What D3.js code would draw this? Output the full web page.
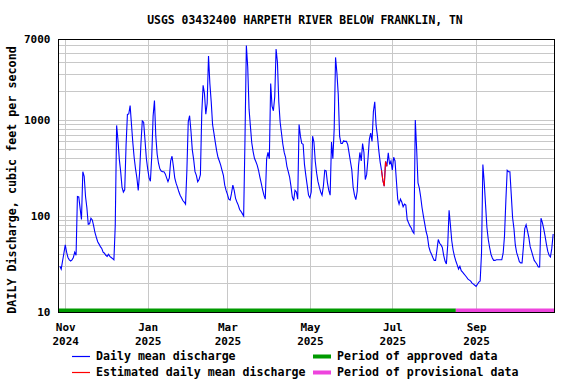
<!DOCTYPE html>
<html>
<head>
<meta charset="utf-8">
<script src="https://cdn.jsdelivr.net/npm/d3@7"></script>
<style>
  body { margin: 0; background: #fff; }
  svg { display: block; font-family: "DejaVu Sans Mono", monospace; font-weight: bold; }
</style>
</head>
<body>
<svg id="chart" width="576" height="384"></svg>
<script>
const title = "USGS 03432400 HARPETH RIVER BELOW FRANKLIN, TN";
const yTitle = "DAILY Discharge, cubic feet per second";

// daily mean discharge, one value per day starting firstDay (cfs)
const firstDay = "2024-10-28";
const discharge = [
  30, 28, 34, 41, 50, 42, 37, 35, 34, 35, 37, 42, 39, 160, 158, 120, 92, 290, 260, 160, 122,
  82, 83, 95, 91, 79, 67, 60, 54, 51, 48, 46, 42, 41, 39, 38, 40, 38, 37, 36, 35,
  80, 880, 620, 390, 290, 200, 178, 188, 550, 1145, 1160, 1420, 900, 580, 405, 310, 250,
  185, 282, 570, 980, 950, 620, 400, 310, 250, 230, 420, 1100, 1600, 680, 440, 355, 310, 295, 290, 290,
  275, 250, 228, 250, 375, 420, 330, 250, 220, 200, 180, 165, 155, 145, 140, 133, 300, 960, 1110, 770, 490, 390,
  290, 265, 228, 240, 270, 1170, 2300, 1900, 1150, 1500, 4650, 2400, 1550, 900, 730, 590, 480, 410, 375, 340,
  300, 265, 210, 185, 168, 150, 147, 172, 210, 185, 153, 140, 130, 117, 112, 106,
  100, 650, 6000, 3600, 1300, 860, 580, 470, 400, 370, 340, 300, 255, 220, 188, 165, 150, 395, 460, 395,
  2400, 1400, 1250, 1750, 5500, 4000, 1550, 950, 730, 560, 460, 410, 330, 290, 255, 205,
  158, 145, 185, 178, 150, 900, 680, 570, 560, 345, 265, 210, 165, 155, 178, 680, 590, 370, 280, 228,
  200, 178, 165, 205, 300, 295, 222, 185, 165, 590, 395, 820, 4500, 3100, 1850, 680, 570, 570, 610, 600,
  600, 555, 455, 370, 305,
  200, 165, 148, 180, 335, 460, 375, 570, 460, 240, 270, 395, 630, 730, 600, 1230, 1550, 880, 680, 480,
  365, 300, 235, 205, 370, 330, 455, 345, 375, 300, 410, 375, 235, 150, 133, 150, 140, 125, 133, 130,
  92, 85, 79, 75, 69, 66, 1000, 500, 222, 195, 158, 122, 100, 83, 69, 61, 48, 43, 40, 37,
  34.5, 34.5, 44, 57, 52, 50, 47, 39, 34, 31.7, 50, 115, 80, 55, 44, 38, 34, 31, 28, 30,
  27, 26, 25, 24, 23, 22, 21.5, 21, 20, 19.5, 19, 18.5, 19.5, 20.5, 21, 41, 345, 225, 130, 76,
  57, 47, 40, 36.5, 34.5, 34.5, 35, 35, 35, 35, 35, 41, 62, 143, 300, 290, 290, 168, 96, 74,
  50, 41.5, 37.5, 33.5, 32.5, 32.5, 48, 74, 81, 70, 60, 48, 43, 38.5, 34.5, 33, 31.5, 29.5, 29.5, 95,
  86, 74, 62, 51, 43, 39, 37.5, 46, 65
];
const estimatedRange = ["2025-06-23", "2025-06-27"];
const periodStart = "2024-10-27";
const approvedUntil = "2025-08-17";
const periodEnd = "2025-10-29";

const yTickValues = [10, 100, 1000, 7000];
const xTickDates = ["2024-11-01", "2025-01-01", "2025-03-01", "2025-05-01", "2025-07-01", "2025-09-01"];

const legendRows = [
  { label: "Daily mean discharge", color: "#0000ff", kind: "line", col: 0, row: 0 },
  { label: "Estimated daily mean discharge", color: "#ff0000", kind: "line", col: 0, row: 1 },
  { label: "Period of approved data", color: "#009a00", kind: "bar", col: 1, row: 0 },
  { label: "Period of provisional data", color: "#ee44dd", kind: "bar", col: 1, row: 1 }
];

const parse = d3.utcParse("%Y-%m-%d");
const day0 = parse(firstDay);
const series = discharge.map((v, i) => ({ date: d3.utcDay.offset(day0, i), value: v }));

const plotLeft = 58.5, plotRight = 554.5, plotTop = 39.5, plotBottom = 312.5;

const svg = d3.select("#chart");

const x = d3.scaleUtc()
  .domain([parse(periodStart), parse(periodEnd)])
  .range([plotLeft, plotRight]);

const y = d3.scaleLog()
  .domain([10, 7000])
  .range([plotBottom - 0.5, plotTop - 0.5]);

// title
svg.append("text")
  .attr("x", 305)
  .attr("y", 24)
  .attr("text-anchor", "middle")
  .attr("font-size", 11.4)
  .text(title);

// grid
const grid = svg.append("g").attr("stroke", "#c8c8c8").attr("stroke-width", 1);
grid.selectAll(".hgrid")
  .data(y.ticks())
  .join("line")
  .attr("class", "hgrid")
  .attr("x1", plotLeft).attr("x2", plotRight)
  .attr("y1", d => Math.round(y(d)) + 0.5)
  .attr("y2", d => Math.round(y(d)) + 0.5);

grid.selectAll(".vgrid")
  .data(x.ticks(d3.utcMonth.every(2)))
  .join("line")
  .attr("class", "vgrid")
  .attr("y1", plotTop).attr("y2", plotBottom)
  .attr("x1", d => Math.round(x(d)) + 0.5)
  .attr("x2", d => Math.round(x(d)) + 0.5);

// approval period bar
const split = x(parse(approvedUntil));
svg.append("rect")
  .attr("x", plotLeft)
  .attr("y", plotBottom - 4)
  .attr("width", split - plotLeft)
  .attr("height", 3.5)
  .attr("fill", "#009a00");

svg.append("rect")
  .attr("x", split)
  .attr("y", plotBottom - 4)
  .attr("width", plotRight - split)
  .attr("height", 3.5)
  .attr("fill", "#ee44dd");

// discharge line
const line = d3.line()
  .x(d => x(d.date))
  .y(d => y(d.value));

svg.append("path")
  .datum(series)
  .attr("fill", "none")
  .attr("stroke", "#0000ff")
  .attr("stroke-width", 1.1)
  .attr("d", line);

const estStart = parse(estimatedRange[0]), estEnd = parse(estimatedRange[1]);
svg.append("path")
  .datum(series.filter(d => d.date >= estStart && d.date <= estEnd))
  .attr("fill", "none")
  .attr("stroke", "#ff0000")
  .attr("stroke-width", 1.1)
  .attr("d", line);

// frame
svg.append("rect")
  .attr("x", plotLeft).attr("y", plotTop)
  .attr("width", plotRight - plotLeft).attr("height", plotBottom - plotTop)
  .attr("fill", "none")
  .attr("stroke", "#000")
  .attr("stroke-width", 1);

// y axis labels
const yAxis = svg.append("g")
  .attr("transform", `translate(${plotLeft},0)`)
  .call(d3.axisLeft(y).tickValues(yTickValues).tickSize(0).tickPadding(8).tickFormat(d3.format("d")));
yAxis.select(".domain").remove();
yAxis.selectAll("text")
  .attr("font-family", "DejaVu Sans Mono, monospace")
  .attr("font-weight", "bold")
  .attr("font-size", 11)
  .attr("fill", "#000");

svg.append("text")
  .attr("transform", `translate(15.5,${(plotTop + plotBottom) / 2 + 4}) rotate(-90)`)
  .attr("text-anchor", "middle")
  .attr("font-size", 11.7)
  .text(yTitle);

// x axis labels
const xl = svg.append("g").attr("font-size", 11).attr("text-anchor", "middle");
const xLab = xl.selectAll("text")
  .data(xTickDates.map(parse))
  .join("text")
  .attr("x", d => x(d) + 0.5)
  .attr("y", 331);
xLab.append("tspan").text(d3.utcFormat("%b"));
xLab.append("tspan")
  .attr("x", d => x(d) + 0.5)
  .attr("dy", 14)
  .text(d3.utcFormat("%Y"));

// legend
const legend = svg.append("g").attr("font-size", 11.6);
const colX = [72, 313];
const rowY = [356, 372];
legendRows.forEach(item => {
  const lx = colX[item.col], ly = rowY[item.row];
  if (item.kind === "line") {
    legend.append("line")
      .attr("x1", lx).attr("x2", lx + 18)
      .attr("y1", ly + 0.5).attr("y2", ly + 0.5)
      .attr("stroke", item.color).attr("stroke-width", 1.2);
  } else {
    legend.append("rect")
      .attr("x", lx).attr("y", ly - 1.5)
      .attr("width", 18).attr("height", 4)
      .attr("fill", item.color);
  }
  legend.append("text")
    .attr("x", lx + 24)
    .attr("y", ly + 4)
    .text(item.label);
});
</script>
</body>
</html>
